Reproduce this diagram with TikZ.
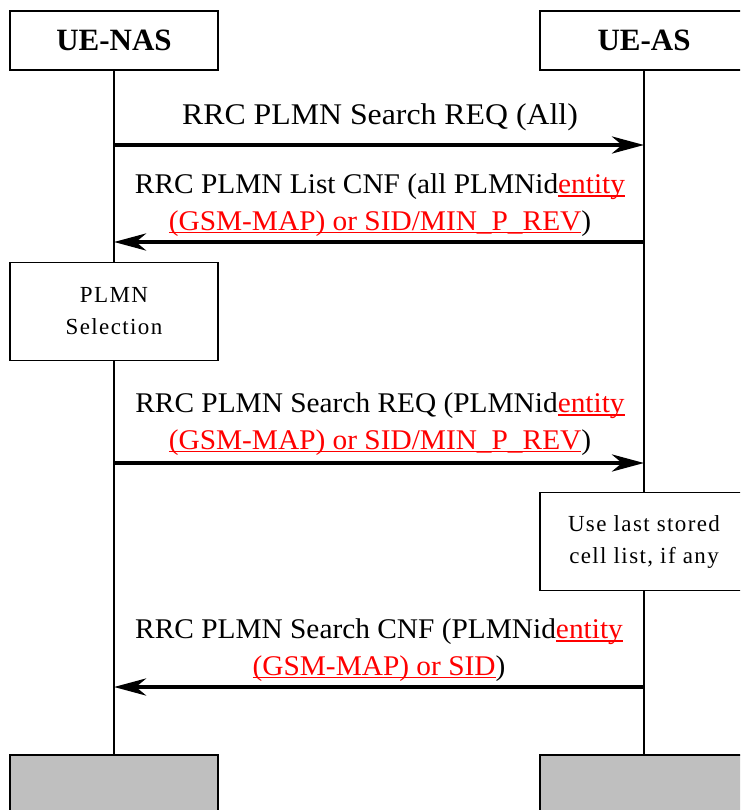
\documentclass[tikz,border=0pt]{standalone}
\usepackage{fontspec}
\setmainfont{Liberation Serif}
\newfontfamily\msgfont[FakeStretch=1.06]{Liberation Serif}
\newfontfamily\longmsgfont[FakeStretch=1.03]{Liberation Serif}
\newfontfamily\notefont[LetterSpace=6]{Liberation Serif}
\usetikzlibrary{arrows.meta}
% red text with a red rule just under the baseline
\newcommand\redu[1]{{\color{red}\setbox0\hbox{#1}\rlap{\rule[-3pt]{\wd0}{1.3pt}}\box0}}
\begin{document}
\begin{tikzpicture}[x=1pt,y=-1pt,
  actor/.style={draw,line width=1.5pt,fill=white,minimum width=208pt,minimum height=59pt,
    inner sep=0pt,font=\fontsize{31}{32}\selectfont\bfseries},
  endbox/.style={draw,line width=1.5pt,fill=black!25,minimum width=208pt,minimum height=60pt,inner sep=0pt},
  actbox/.style={draw,line width=1.5pt,fill=white,minimum width=208pt,minimum height=98pt,
    inner sep=0pt,align=center,font=\notefont\fontsize{23}{32}\selectfont},
  life/.style={line width=1.5pt},
  msg/.style={line width=4.5pt,-{Stealth[length=32pt,width=17pt,inset=10pt]}},
  msglabel/.style={align=center,inner sep=0pt,font=\msgfont\fontsize{30}{36.5}\selectfont},
  longlabel/.style={align=center,inner sep=0pt,font=\longmsgfont\fontsize{28.5}{36.5}\selectfont}]
\clip (0,0) rectangle (740,810);
\fill[white] (0,0) rectangle (740,810);

% participants and their closing boxes
\node[actor] (nas) at (114,40.5) {UE-NAS};
\node[actor] (as) at (644,40.5) {UE-AS};
\node[endbox] (nasend) at (114,785) {};
\node[endbox] (asend) at (644,785) {};

% lifelines
\draw[life] (nas.south) -- (nasend.north);
\draw[life] (as.south) -- (asend.north);

% local actions
\node[actbox] (sel) at (114,311.5) {PLMN\\Selection};
\node[actbox] (stored) at (644,541.5) {Use last stored\\cell list, if any};

% message end points on the lifelines
\coordinate (n1) at (114,145); \coordinate (a1) at (644,145);
\coordinate (n2) at (114,242); \coordinate (a2) at (644,242);
\coordinate (n3) at (114,463); \coordinate (a3) at (644,463);
\coordinate (n4) at (114,687); \coordinate (a4) at (644,687);

\draw[msg] (n1) -- (a1);
\draw[msg] (a2) -- (n2);
\draw[msg] (n3) -- (a3);
\draw[msg] (a4) -- (n4);

% message labels
\node[msglabel] (m1) at (380,117) {RRC PLMN Search REQ (All)};
\node[longlabel] (m2) at (380,205) {RRC PLMN List CNF (all PLMNid\redu{entity}\\
  \redu{(GSM-MAP) or SID/MIN\_P\_REV})};
\node[longlabel] (m3) at (380,424) {RRC PLMN Search REQ (PLMNid\redu{entity}\\
  \redu{(GSM-MAP) or SID/MIN\_P\_REV})};
\node[longlabel] (m4) at (379,650) {RRC PLMN Search CNF (PLMNid\redu{entity}\\
  \redu{(GSM-MAP) or SID})};
\end{tikzpicture}
\end{document}
